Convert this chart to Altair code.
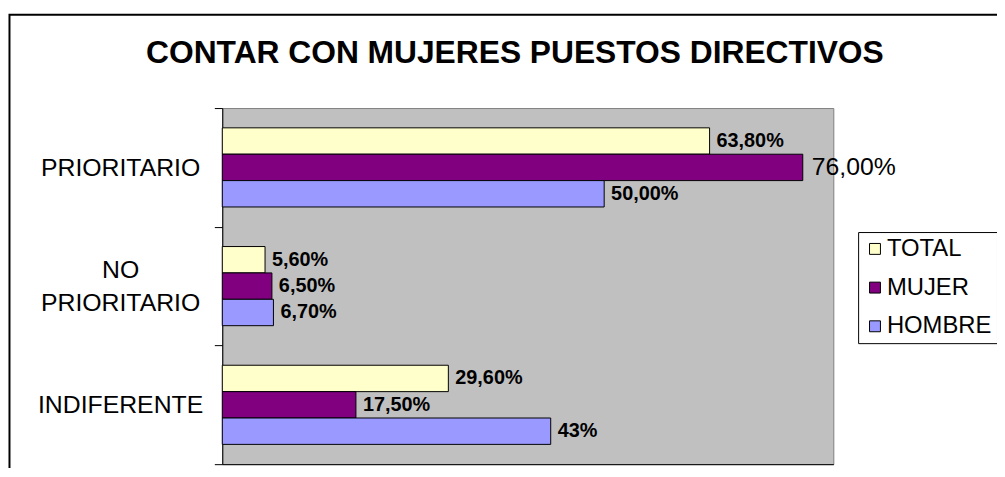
import altair as alt
import pandas as pd

# ---- data ----
categories = ["PRIORITARIO", "NO\nPRIORITARIO", "INDIFERENTE"]
series = ["TOTAL", "MUJER", "HOMBRE"]
total_vals = [63.8, 5.6, 29.6]
mujer_vals = [76.0, 6.5, 17.5]
hombre_vals = [50.0, 6.7, 43.0]
total_labels = ["63,80%", "5,60%", "29,60%"]
mujer_labels = ["76,00%", "6,50%", "17,50%"]
hombre_labels = ["50,00%", "6,70%", "43%"]
colors = ["#FFFFCC", "#800080", "#9999FF"]
title_text = "CONTAR CON MUJERES PUESTOS DIRECTIVOS"

rows = []
for s, vals, labs in zip(series, [total_vals, mujer_vals, hombre_vals],
                         [total_labels, mujer_labels, hombre_labels]):
    for c, v, l in zip(categories, vals, labs):
        rows.append({"cat": c, "serie": s, "value": v, "label": l})
df = pd.DataFrame(rows)

FONT = "Liberation Sans"
W, H = 616, 359
ZW = "\u200b"  # zero-width spacer line (not trimmed away)

# two-line labels: [line1, spacer, line2]; one-line labels: [spacer, text]
label_expr = (
    "indexof(datum.label, '\\n') >= 0 ? "
    "[split(datum.label, '\\n')[0], '" + ZW + "', split(datum.label, '\\n')[1]] : "
    "['" + ZW + "', datum.label]"
)

y_enc = alt.Y(
    "cat:N", sort=categories,
    scale=alt.Scale(paddingInner=0, paddingOuter=0),
    axis=alt.Axis(
        title=None, tickBand="extent", tickSize=8, tickColor="black",
        domainColor="black", labelAlign="center", labelPadding=95,
        labelFontSize=25, labelFont=FONT, labelColor="black",
        labelExpr=label_expr, labelLineHeight=16.5, labelOffset=-16.5,
        labelBaseline="middle", labelLimit=400, labelOverlap=False,
    ),
)
y_plain = alt.Y("cat:N", sort=categories)
yoff = alt.YOffset("serie:N", sort=series,
                   scale=alt.Scale(paddingInner=0, paddingOuter=0.75))
yoff_plain = alt.YOffset("serie:N", sort=series)
x_enc = alt.X(
    "value:Q", scale=alt.Scale(domain=[0, 80], nice=False, zero=True),
    axis=alt.Axis(title=None, labels=False, ticks=False, grid=False,
                  domainColor="black"),
)

border = alt.Chart(pd.DataFrame({"b": [0]})).mark_rect(
    fill="transparent", stroke="black", strokeWidth=2
).encode(x=alt.value(-214.5), x2=alt.value(900), y=alt.value(-94), y2=alt.value(500))

bars = alt.Chart(df).mark_bar(stroke="black", strokeWidth=1).encode(
    x=x_enc, y=y_enc, yOffset=yoff,
    color=alt.Color(
        "serie:N", sort=series,
        scale=alt.Scale(domain=series, range=colors),
        legend=alt.Legend(
            title=None, orient="none", legendX=641, legendY=125,
            strokeColor="black", fillColor="white", padding=5,
            labelFontSize=24, labelFont=FONT, labelColor="black",
            labelOffset=0, symbolType="square", symbolSize=121,
            symbolStrokeColor="black", symbolStrokeWidth=1,
            rowPadding=15, cornerRadius=0,
        ),
    ),
)

emph = "datum.serie == 'MUJER' && datum.cat == 'PRIORITARIO'"
text_bold = alt.Chart(df).transform_filter("!(" + emph + ")").mark_text(
    align="left", baseline="middle", dx=7, fontSize=20, fontWeight="bold",
    font=FONT, color="black"
).encode(x="value:Q", y=y_plain, yOffset=yoff_plain, text="label:N")

text_norm = alt.Chart(df).transform_filter(emph).mark_text(
    align="left", baseline="middle", dx=9, fontSize=25, fontWeight="normal",
    font=FONT, color="black"
).encode(x="value:Q", y=y_plain, yOffset=yoff_plain, text="label:N")

chart = alt.layer(border, bars, text_bold, text_norm).properties(
    width=W, height=H,
    background="white",
    title=alt.TitleParams(
        text=title_text, fontSize=32, font=FONT, fontWeight="bold",
        color="black", anchor="middle", dx=-13, offset=-57,
    ),
    autosize=alt.AutoSizeParams(type="none"),
    padding={"left": 216, "top": 99, "right": 165, "bottom": 2},
).configure_view(
    fill="#C0C0C0", stroke="#808080", strokeWidth=1
)

chart.save("out.html", embed_options={"renderer": "svg", "actions": False})
